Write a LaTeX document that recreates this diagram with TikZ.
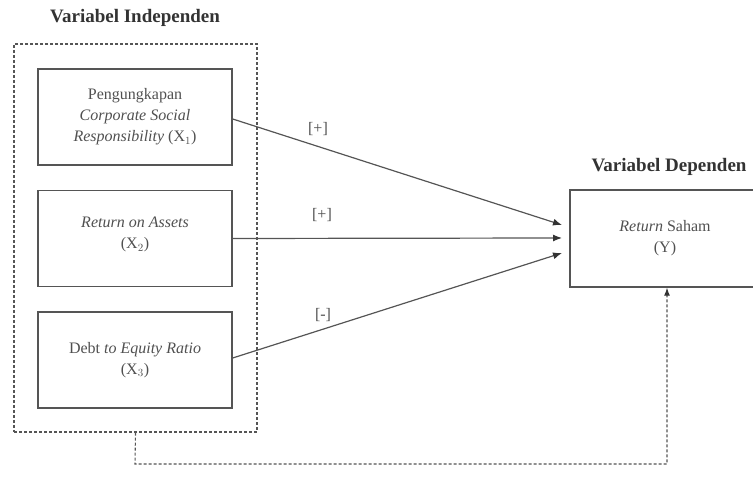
\documentclass[tikz,border=0pt]{standalone}
\usepackage{fontspec}
\setmainfont{Liberation Serif}
\usetikzlibrary{arrows.meta}
\definecolor{ln}{HTML}{555555}
\definecolor{tx}{HTML}{505050}
\begin{document}
\begin{tikzpicture}[x=1pt,y=1pt,
  varbox/.style={draw=ln,line width=1.4pt,minimum width=194pt,minimum height=96pt,align=center,text=tx,inner sep=0pt,font=\fontsize{16}{21}\selectfont},
  heading/.style={font=\fontsize{19}{22}\selectfont\bfseries,text=black!80},
  sign/.style={font=\fontsize{16}{20}\selectfont,text=tx},
  rel/.style={draw=ln,line width=1.2pt,-{Latex[length=9pt,width=7pt,color=black!80]}},
  grp/.style={draw=ln,line width=1.1pt,dash pattern=on 3pt off 2pt},
]
\useasboundingbox (0,0) rectangle (753,495);
% headings
\node[heading] (hind) at (135,477) {Variabel Independen};
\node[heading] (hdep) at (669,328) {Variabel Dependen};
% group box
\node[grp,minimum width=243pt,minimum height=388pt,inner sep=0pt] (grp) at (135.5,257) {};
% variable boxes
\node[varbox] (x1) at (135,378) {Pengungkapan\\\textit{Corporate Social}\\\textit{Responsibility} (X$_1$)};
\node[varbox] (x2) at (135,256.5) {\\\textit{Return on Assets}\\(X$_2$)\\\phantom{X}};
\node[varbox] (x3) at (135,135) {Debt \textit{to Equity Ratio}\\(X$_3$)};
\node[varbox,minimum width=190pt,minimum height=97pt] (y) at (665,256.5) {\textit{Return} Saham\\(Y)};
% relations
\coordinate (t1) at (562,270);
\coordinate (t2) at (562,257);
\coordinate (t3) at (562,242);
\draw[rel] ([yshift=-2pt]x1.east) -- (t1);
\draw[rel] ([yshift=0pt]x2.east) -- (t2);
\draw[rel] ([yshift=2pt]x3.east) -- (t3);
\node[sign] (s1) at (318,366) {[+]};
\node[sign] (s2) at (322,280) {[+]};
\node[sign] (s3) at (323,180) {[-]};
% simultaneous link
\coordinate (b1) at (135,31);
\coordinate (b2) at (667,31);
\draw[grp,-{Latex[length=8pt,width=6pt,color=black!80]}] (grp.south) -- (b1) -- (b2) -- (b2 |- y.south);
\end{tikzpicture}
\end{document}
